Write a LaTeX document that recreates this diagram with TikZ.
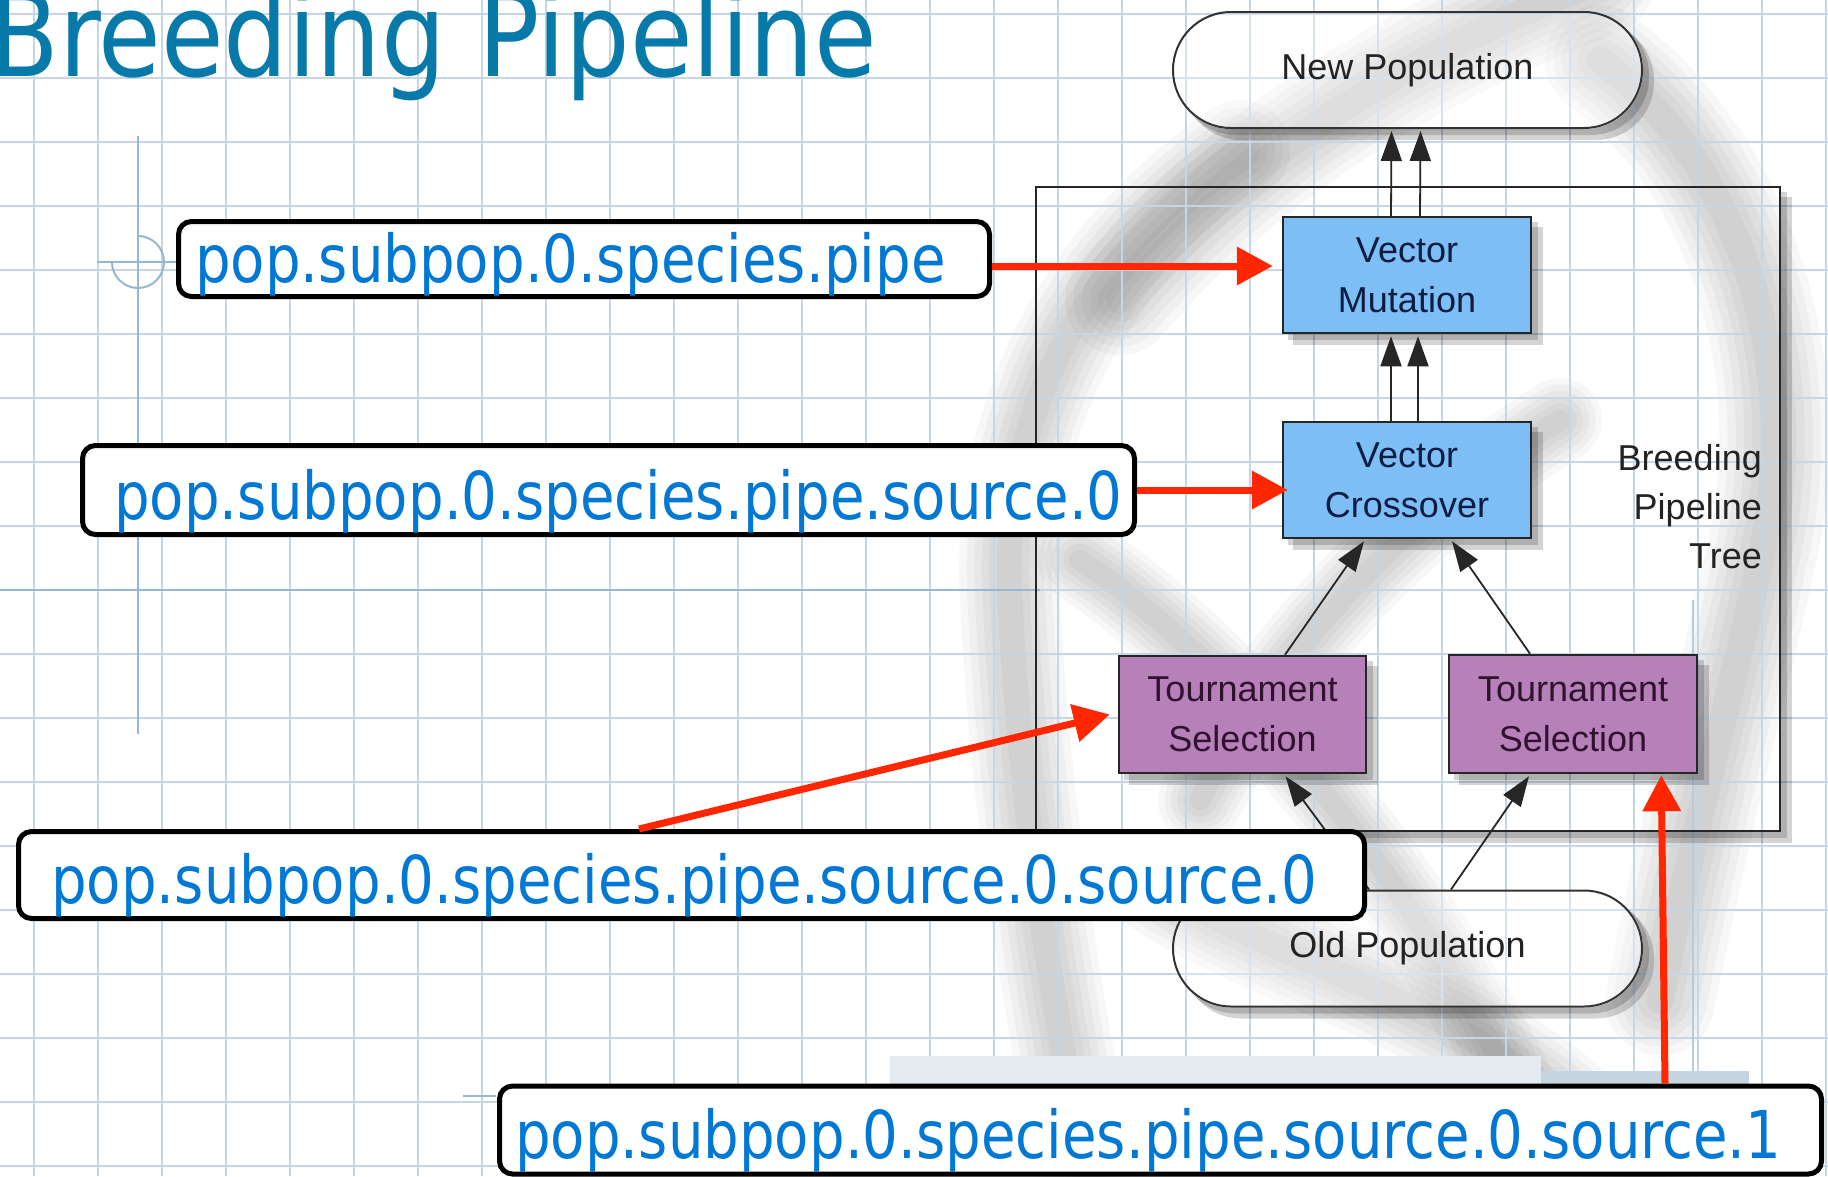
\documentclass[tikz,border=0pt]{standalone}
\usepackage{fontspec}
\setmainfont{Liberation Sans}
\newfontfamily\titlefont{DejaVu Sans}[FakeStretch=0.87]
\newfontfamily\pathfont{DejaVu Sans}[FakeStretch=0.851]
\usetikzlibrary{arrows.meta,calc}

\definecolor{gridcol}{RGB}{198,214,228}
\definecolor{decocol}{RGB}{150,182,210}
\definecolor{titleblue}{RGB}{8,122,170}
\definecolor{pathblue}{RGB}{0,120,212}
\definecolor{callred}{RGB}{255,38,0}
\definecolor{mutblue}{RGB}{125,190,245}
\definecolor{selpurple}{RGB}{182,128,184}
\definecolor{inkdark}{RGB}{35,35,35}
\definecolor{navyink}{RGB}{12,28,66}
\definecolor{plumink}{RGB}{48,18,48}
\definecolor{bandlight}{RGB}{228,235,240}
\definecolor{banddark}{RGB}{196,212,225}

\pgfdeclarelayer{paper}
\pgfdeclarelayer{shade}
\pgfsetlayers{paper,shade,main}

\tikzset{
  gridline/.style={draw=gridcol, line width=2pt},
  decoline/.style={draw=decocol, line width=2pt},
  helix/.style={line cap=round, draw=black, draw opacity=0.031},
  shadowfill/.style={fill=black, fill opacity=0.17},
  callout/.style={draw=black, fill=white, line width=5pt, rounded corners=13pt, inner sep=0pt},
  calltext/.style={inner sep=0pt, anchor=base west, text=pathblue, font=\pathfont\fontsize{66}{70}\selectfont},
  callarrow/.style={draw=callred, line width=7pt, -{Triangle[length=36pt,width=37pt]}},
  stage/.style={draw=black!85, line width=2.5pt, inner sep=0pt, align=center, font=\fontsize{36}{50}\selectfont},
  mutbox/.style={stage, fill=mutblue, text=navyink, minimum width=248pt, minimum height=116pt},
  selbox/.style={stage, fill=selpurple, text=plumink, minimum width=247pt, minimum height=117pt},
  popbox/.style={draw=black!80, line width=2pt, fill=white, fill opacity=0.3, text opacity=1,
    rounded corners=58pt, minimum width=469pt, minimum height=116pt, text=inkdark,
    font=\fontsize{36}{44}\selectfont, inner sep=0pt},
  treeframe/.style={draw=black!85, line width=2pt, minimum width=744pt, minimum height=644pt, inner sep=0pt},
  treearrow/.style={draw=black!85, line width=1.8pt, -{Triangle[length=30pt,width=21pt]}},
}

% soft grey band of the helix backdrop: #1 width, #2 path
\newcommand{\helixband}[2]{\foreach \hw in {2.0,1.7,1.4,1.1,0.8,0.5}{\draw[helix, line width=\hw*#1] #2;}}
% offset shadow behind an opaque box
\newcommand{\boxshade}[1]{%
  \fill[shadowfill] ($(#1.south west)+(6,6)$) rectangle ($(#1.north east)+(6,6)$);
  \fill[shadowfill] ($(#1.south west)+(11,11)$) rectangle ($(#1.north east)+(11,11)$);}
% offset shadow that stays outside a see-through shape
\newcommand{\outershade}[2]{%
  \begin{scope}[even odd rule, rounded corners=#2]
    \clip (-20,-20) rectangle (1850,1200) (#1.south west) rectangle (#1.north east);
    \fill[shadowfill] ($(#1.south west)+(6,6)$) rectangle ($(#1.north east)+(6,6)$);
    \fill[shadowfill] ($(#1.south west)+(11,11)$) rectangle ($(#1.north east)+(11,11)$);
  \end{scope}}

\begin{document}
\begin{tikzpicture}[x=1pt,y=-1pt]
\useasboundingbox (0,0) rectangle (1828,1176);

\begin{pgfonlayer}{paper}
  \fill[white] (0,0) rectangle (1828,1176);
  % helix backdrop
  \helixband{50pt}{(1240,150) .. controls (1080,260) and (1000,420) .. (1010,600) .. controls (1020,800) and (1050,1000) .. (1090,1190)}
  \helixband{55pt}{(1120,300) .. controls (1250,150) and (1400,60) .. (1600,-20)}
  \helixband{55pt}{(1600,60) .. controls (1760,180) and (1800,400) .. (1760,560) .. controls (1730,700) and (1700,800) .. (1660,1000)}
  \helixband{42pt}{(1080,560) .. controls (1200,640) and (1380,820) .. (1520,1100)}
  \helixband{42pt}{(1560,420) .. controls (1400,520) and (1280,650) .. (1200,800)}
  \helixband{50pt}{(1150,880) .. controls (1300,980) and (1500,1000) .. (1650,1190)}
  % squared paper
  \foreach \gx in {0,...,28} \draw[gridline] ({34+64*\gx},0) -- ({34+64*\gx},1176);
  \foreach \gy in {0,...,18} \draw[gridline] (0,{14+64*\gy}) -- (1828,{14+64*\gy});
  % slide ornaments
  \draw[decoline] (138,136) -- (138,734);
  \draw[decoline] (0,590) -- (1040,590);
  \draw[decoline] (97,262) -- (176,262);
  \draw[decoline] (112,262) arc[start angle=180, end angle=-90, radius=26];
  \draw[decoline] (463,1096) -- (496,1096);
  \draw[decoline, draw=decocol!70] (1693,600) -- (1693,1084);
  \fill[bandlight] (890,1056) rectangle (1541,1085);
  \fill[banddark] (1541,1071) rectangle (1749,1085);
\end{pgfonlayer}

% title
\node[inner sep=0pt, anchor=base west, text=titleblue, font=\titlefont\fontsize{117}{120}\selectfont]
  (title) at (-11,76) {Breeding Pipeline};

% breeding pipeline tree
\node[treeframe] (frame) at (1408,509) {};
\node[popbox] (np) at (1407.5,70) {New Population};
\node[mutbox] (vm) at (1407,275) {Vector\\Mutation};
\node[mutbox] (vc) at (1407,480) {Vector\\Crossover};
\node[selbox] (tsa) at (1242.5,714.5) {Tournament\\Selection};
\node[selbox, minimum width=248pt, minimum height=118pt] (tsb) at (1573,714) {Tournament\\Selection};
\node[popbox] (op) at (1407.5,948.5) {Old Population};
\node[anchor=east, align=right, text=inkdark, font=\fontsize{36}{49}\selectfont, inner sep=0pt]
  (treelabel) at (1762,507) {Breeding\\Pipeline\\Tree};

\begin{pgfonlayer}{shade}
  \outershade{frame}{0pt}
  \outershade{np}{58pt}
  \outershade{op}{58pt}
  \boxshade{vm}
  \boxshade{vc}
  \boxshade{tsa}
  \boxshade{tsb}
\end{pgfonlayer}

\draw[treearrow] ($(vm.north)+(-16,0)$) -- ($(np.south)+(-16,2)$);
\draw[treearrow] ($(vm.north)+(13,0)$) -- ($(np.south)+(13,2)$);
\draw[treearrow] ($(vc.north)+(-16,0)$) -- ($(vm.south)+(-16,2)$);
\draw[treearrow] ($(vc.north)+(11,0)$) -- ($(vm.south)+(11,2)$);
\draw[treearrow] ($(tsa.north)+(42.5,0)$) -- ($(vc.south)+(-43,2)$);
\draw[treearrow] ($(tsb.north)+(-43,0)$) -- ($(vc.south)+(45,2)$);
\draw[treearrow] ($(op.north)+(-38.5,0)$) -- ($(tsa.south)+(43,2)$);
\draw[treearrow] ($(op.north)+(43.5,0)$) -- ($(tsb.south)+(-44,2)$);

% parameter-name callouts
\node[callout, minimum width=811pt, minimum height=75pt] (b1) at (584,259) {};
\node[calltext] (t1) at (195,282) {pop.subpop.0.species.pipe};
\node[callout, minimum width=1052pt, minimum height=89pt] (b2) at (608.5,490) {};
\node[calltext] (t2) at (114,519) {pop.subpop.0.species.pipe.source.0};
\node[callout, minimum width=1346pt, minimum height=87pt] (b3) at (691.5,875) {};
\node[calltext] (t3) at (51,903) {pop.subpop.0.species.pipe.source.0.source.0};
\node[callout, minimum width=1322pt, minimum height=88pt] (b4) at (1160.5,1130) {};
\node[calltext] (t4) at (515,1158) {pop.subpop.0.species.pipe.source.0.source.1};

\draw[callarrow] ($(b1.east)+(0,7)$) -- ($(vm.west)+(-9,-9)$);
\draw[callarrow] (b2.east) -- ($(vc.west)+(6,10)$);
\draw[callarrow] ($(b3.north west)+(623,0)$) -- ($(tsa.west)+(-8,0)$);
\draw[callarrow] ($(b4.north east)+(-159,0)$) -- ($(tsb.south east)+(-37,1)$);
\end{tikzpicture}
\end{document}
